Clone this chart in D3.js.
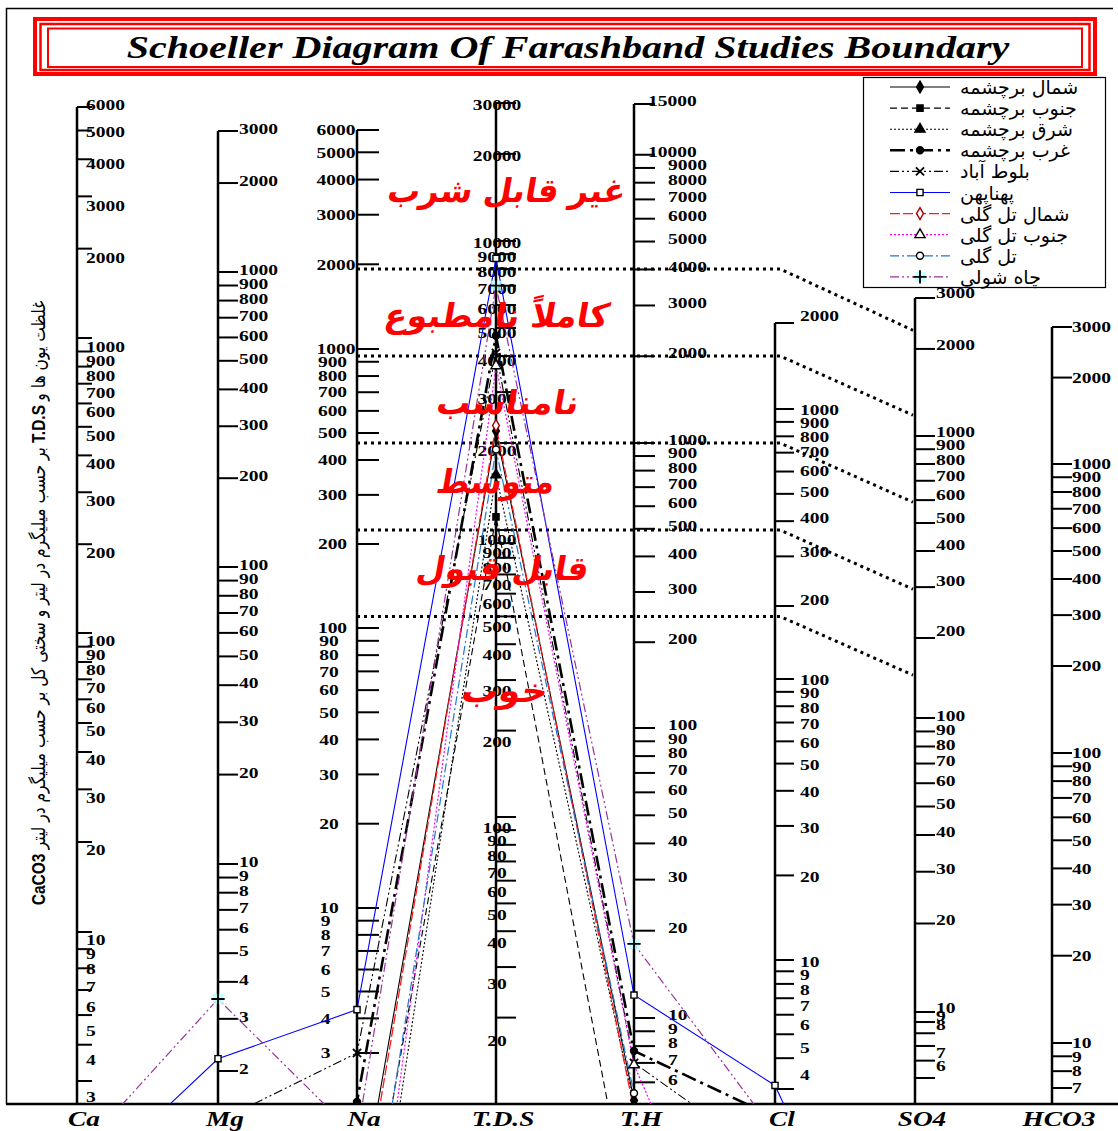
<!DOCTYPE html>
<html>
<head>
<meta charset="utf-8">
<script src="https://cdn.jsdelivr.net/npm/d3@7"></script>
<style>
  body { margin: 0; background: #fff; }
  svg { display: block; }
</style>
</head>
<body>
<svg id="chart" width="1118" height="1131"></svg>
<script>
// ---------------- data ----------------
const ions = ["Ca", "Mg", "Na", "T.D.S", "T.H", "Cl", "SO4", "HCO3"];

const stationNames = [
  "شمال برچشمه", "جنوب برچشمه", "شرق برچشمه", "غرب برچشمه", "بلوط آباد",
  "پهناپهن", "شمال تل گلی", "جنوب تل گلی", "تل گلی", "چاه شولی"
];

// concentrations in ion order: Ca, Mg, Na, TDS, TH, Cl, SO4, HCO3
const shomalBarchashmeh = [0.5, 0.35, 0.73, 2200, 5.2, 0.1, 0.3, 1.0];
const jonoubBarchashmeh = [0.4, 0.3, 0.38, 1110, 1.7, 0.1, 0.3, 1.0];
const sharqBarchashmeh  = [0.4, 0.25, 0.19, 1550, 5.0, 0.1, 0.3, 1.0];
const gharbBarchashmeh  = [0.5, 0.5, 2.0, 4700, 7.7, 2.3, 0.4, 1.2];
const bulutAbad         = [1.0, 1.35, 3.0, 4100, 7.0, 1.5, 0.3, 1.0];
const pahnapahn         = [1.0, 2.2, 4.3, 8700, 12, 3.1, 0.2, 1.0];
const shomalTalGoli     = [0.5, 0.3, 0.64, 2300, 4.8, 0.1, 0.3, 1.0];
const jonoubTalGoli     = [0.3, 0.2, 0.165, 3700, 6.9, 0.18, 0.2, 1.0];
const talGoli           = [0.4, 0.3, 0.31, 1900, 5.5, 0.1, 0.3, 1.0];
const chahShuli         = [1.6, 3.5, 1.5, 7000, 18, 2.0, 0.3, 1.0];

const seriesValues = [
  shomalBarchashmeh, jonoubBarchashmeh, sharqBarchashmeh, gharbBarchashmeh, bulutAbad,
  pahnapahn, shomalTalGoli, jonoubTalGoli, talGoli, chahShuli
];

// tick values of each ion axis
const caTicks   = [3,4,5,6,7,8,9,10,20,30,40,50,60,70,80,90,100,200,300,400,500,600,700,800,900,1000,2000,3000,4000,5000,6000];
const mgTicks   = [2,3,4,5,6,7,8,9,10,20,30,40,50,60,70,80,90,100,200,300,400,500,600,700,800,900,1000,2000,3000];
const naTicks   = [3,4,5,6,7,8,9,10,20,30,40,50,60,70,80,90,100,200,300,400,500,600,700,800,900,1000,2000,3000,4000,5000,6000];
const tdsTicks  = [20,30,40,50,60,70,80,90,100,200,300,400,500,600,700,800,900,1000,2000,3000,4000,5000,6000,7000,8000,9000,10000,20000,30000];
const thTicks   = [6,7,8,9,10,20,30,40,50,60,70,80,90,100,200,300,400,500,600,700,800,900,1000,2000,3000,4000,5000,6000,7000,8000,9000,10000,15000];
const clTicks   = [3,4,5,6,7,8,9,10,20,30,40,50,60,70,80,90,100,200,300,400,500,600,700,800,900,1000,2000];
const so4Ticks  = [5,6,7,8,9,10,20,30,40,50,60,70,80,90,100,200,300,400,500,600,700,800,900,1000,2000,3000];
const hco3Ticks = [7,8,9,10,20,30,40,50,60,70,80,90,100,200,300,400,500,600,700,800,900,1000,2000,3000];
const unlabeled = { Cl: [3], SO4: [5] };

// drinking-water class limits (TDS, with matching SO4 end points)
const classTDS = [8000, 4000, 2000, 1000, 500];
const classSO4 = [2320, 1180, 590, 295, 145];
const classNames = ["غیر قابل شرب", "کاملاً نامطبوع", "نامناسب", "متوسط", "قابل قبول", "خوب"];

// ---------------- layout ----------------
const svg = d3.select("#chart");
const bottomY = 1104;
const serifBold = "'Liberation Serif', 'Times New Roman', serif";
const persian = "'DejaVu Sans', sans-serif";

const axisLayout = [
  { key: "Ca", ticks: caTicks, x: 77, tickLen: 15,
    domain: [3,4,10,100,1000,6000], range: [1104,1081,932,633,338,107],
    labelDomain: [3,10,100,1000,3000,6000], labelRange: [1097,940,641,347,206,105],
    lx: () => 86, anchor: "start" },
  { key: "Mg", ticks: mgTicks, x: 218, tickLen: 20,
    domain: [2,10,100,1000,3000], range: [1071,864,567,272,131],
    lx: () => 239, anchor: "start", dy: -2 },
  { key: "Na", ticks: naTicks, x: 357, tickLen: 22,
    domain: [3,10,100,1000,6000], range: [1053,908,628,349,130],
    lx: v => 322 + String(v).length * 3.5, anchor: "middle", dy: 0 },
  { key: "T.D.S", ticks: tdsTicks, x: 496, tickLen: 20,
    domain: [10,100,1000,30000], range: [1104,817,530,103],
    labelDomain: [20,30,40,100,1000,10000,30000], labelRange: [1041,984,943,828,540,243,105],
    lx: () => 497, anchor: "middle" },
  { key: "T.H", ticks: thTicks, x: 634, tickLen: 21,
    domain: [10,100,1000,15000], range: [1018,728,443,104],
    lx: v => v >= 10000 ? 648 : 668, anchor: "start", dy: -3 },
  { key: "Cl", ticks: clTicks, x: 775, tickLen: 19,
    domain: [3,10,100,200,1000,2000], range: [1089,960,679,606,409,323],
    labelDomain: [4,10,100,200,1000,2000], labelRange: [1075,962,680,600,410,316],
    lx: () => 800, anchor: "start" },
  { key: "SO4", ticks: so4Ticks, x: 915, tickLen: 20,
    domain: [5,10,100,200,1000,3000], range: [1078,1012,718,638,436,298],
    labelDomain: [6,7,8,10,100,1000,3000], labelRange: [1066,1053,1025,1008,716,432,293],
    lx: () => 936, anchor: "start" },
  { key: "HCO3", ticks: hco3Ticks, x: 1052, tickLen: 20,
    domain: [7,10,100,1000,3000], range: [1088,1043,753,464,327],
    lx: () => 1072, anchor: "start", dy: 0 }
];
axisLayout.forEach(a => {
  a.scale = d3.scaleLog().domain(a.domain).range(a.range);
  if (a.labelDomain) {
    const ls = d3.scaleLog().domain(a.labelDomain).range(a.labelRange);
    a.labelY = v => ls(v);
  } else {
    a.labelY = v => a.scale(v) + a.dy;
  }
});

// ---------------- frame ----------------
svg.append("path")
  .attr("d", "M6.5,1104 V8.5 H1113")
  .attr("fill", "none").attr("stroke", "#000").attr("stroke-width", 1.5);

// ---------------- title box ----------------
const titleG = svg.append("g");
titleG.append("rect").attr("x", 35).attr("y", 19).attr("width", 1060).attr("height", 55)
  .attr("fill", "none").attr("stroke", "#ff0000").attr("stroke-width", 4);
titleG.append("rect").attr("x", 40.5).attr("y", 24).attr("width", 1049).attr("height", 46)
  .attr("fill", "none").attr("stroke", "#ff0000").attr("stroke-width", 2.5);
titleG.append("rect").attr("x", 48).attr("y", 28.5).attr("width", 1034).attr("height", 38.5)
  .attr("fill", "none").attr("stroke", "#ff0000").attr("stroke-width", 2);
const title = titleG.append("text")
  .attr("text-anchor", "middle")
  .style("font-family", serifBold).style("font-weight", "bold").style("font-style", "italic")
  .style("font-size", "32px")
  .text("Schoeller Diagram Of Farashband  Studies Boundary");
{
  const w = title.node().getComputedTextLength();
  title.attr("transform", `translate(568,58) scale(${883 / w},1)`);
}

// ---------------- vertical axis title ----------------
const yTitle = svg.append("text")
  .attr("text-anchor", "middle")
  .style("font-size", "19px");
yTitle.append("tspan").style("font-family", "'Liberation Sans', Arial, sans-serif").style("font-weight", "bold").text("CaCO3 ");
yTitle.append("tspan").style("font-family", persian).text("بر حسب میلیگرم در لیتر و سختی کل بر حسب میلیگرم در لیتر");
yTitle.append("tspan").style("font-family", "'Liberation Sans', Arial, sans-serif").style("font-weight", "bold").text(" T.D.S ");
yTitle.append("tspan").style("font-family", persian).text("غلظت یون ها و");
{
  const w = yTitle.node().getComputedTextLength();
  yTitle.attr("transform", `translate(45,603) rotate(-90) scale(${605 / w},1)`);
}

// ---------------- axis tick labels ----------------
const labelG = svg.append("g")
  .style("font-family", serifBold).style("font-weight", "bold").style("font-size", "15px");

axisLayout.forEach(a => {
  const skip = unlabeled[a.key] || [];
  a.ticks.filter(v => !skip.includes(v)).forEach(v => {
    const ly = Math.min(a.labelY(v), 1098);
    labelG.append("text")
      .attr("text-anchor", a.anchor)
      .attr("dy", "0.35em")
      .attr("transform", `translate(${a.lx(v)},${ly}) scale(1.3,1)`)
      .text(String(v));
  });
});

// ---------------- axis lines and ticks ----------------
const axisG = svg.append("g").attr("stroke", "#000");
axisLayout.forEach(a => {
  const top = a.scale(d3.max(a.ticks));
  axisG.append("line")
    .attr("x1", a.x).attr("x2", a.x).attr("y1", top).attr("y2", bottomY)
    .attr("stroke-width", 2.5);
  a.ticks.forEach(v => {
    const y = a.scale(v);
    if (y > bottomY - 1) return;
    axisG.append("line")
      .attr("x1", a.x).attr("x2", a.x + a.tickLen).attr("y1", y).attr("y2", y)
      .attr("stroke-width", 2);
  });
});

// base line
svg.append("line").attr("x1", 6).attr("x2", 1118).attr("y1", bottomY).attr("y2", bottomY)
  .attr("stroke", "#000").attr("stroke-width", 2.5);

// ion names under the axes
const nameG = svg.append("g")
  .style("font-family", serifBold).style("font-weight", "bold").style("font-style", "italic")
  .style("font-size", "21px");
axisLayout.forEach((a, i) => {
  nameG.append("text")
    .attr("text-anchor", "middle")
    .attr("transform", `translate(${a.x + 7},1126) scale(1.3,1)`)
    .text(ions[i]);
});

// ---------------- class boundaries ----------------
const tdsAxis = axisLayout[3], naAxis = axisLayout[2], clAxis = axisLayout[5], so4Axis = axisLayout[6];
classTDS.forEach((v, i) => {
  const y = tdsAxis.scale(v);
  svg.append("path")
    .attr("d", `M${naAxis.x},${y} H${clAxis.x + 5} L${so4Axis.x - 2},${so4Axis.scale(classSO4[i])}`)
    .attr("fill", "none").attr("stroke", "#000").attr("stroke-width", 3)
    .attr("stroke-dasharray", "3,4");
});

// ---------------- data lines ----------------
const seriesStyle = [
  { color: "#000000", width: 1.1, dash: null,            symbol: "diamond",  fill: "#000", mstroke: "#000" },
  { color: "#000000", width: 1.1, dash: "7,4",           symbol: "square",   fill: "#000", mstroke: "#000" },
  { color: "#000000", width: 1.1, dash: "2,2",           symbol: "triangle", fill: "#000", mstroke: "#000" },
  { color: "#000000", width: 2.6, dash: "15,5,3,5",      symbol: "circle",   fill: "#000", mstroke: "#000" },
  { color: "#000000", width: 1.1, dash: "9,3,2,3,2,3",   symbol: "times",    fill: "none", mstroke: "#000" },
  { color: "#0000ff", width: 1.1, dash: null,            symbol: "square",   fill: "#fff", mstroke: "#000" },
  { color: "#ff1a1a", width: 1.3, dash: "10,3",          symbol: "diamond",  fill: "#fff", mstroke: "#a00000" },
  { color: "#ff00ff", width: 1.2, dash: "2,2",           symbol: "triangle", fill: "#fff", mstroke: "#000" },
  { color: "#1f78d2", width: 1.2, dash: "9,3,2,3",       symbol: "circle",   fill: "#fff", mstroke: "#000" },
  { color: "#993399", width: 1.2, dash: "9,3,2,3,2,3",   symbol: "plus",     fill: "none", mstroke: "#000", halo: "#b8ffff" }
];

const symbolTypes = {
  diamond: d3.symbolDiamond,
  square: d3.symbolSquare,
  triangle: d3.symbolTriangle,
  circle: d3.symbolCircle,
  times: d3.symbolTimes || d3.symbolCross,
  plus: d3.symbolPlus || d3.symbolCross
};
const symbolSize = { diamond: 40, square: 38, triangle: 45, circle: 38, times: 45, plus: 60 };

function drawMarker(g, st, x, y) {
  if (st.halo) {
    g.append("rect").attr("x", x - 5).attr("y", y - 5).attr("width", 10).attr("height", 10)
      .attr("fill", st.halo).attr("opacity", 0.8);
  }
  const stroked = st.symbol === "times" || st.symbol === "plus";
  g.append("path")
    .attr("transform", `translate(${x},${y})`)
    .attr("d", d3.symbol().type(symbolTypes[st.symbol]).size(symbolSize[st.symbol])())
    .attr("fill", stroked ? "none" : st.fill)
    .attr("stroke", st.mstroke)
    .attr("stroke-width", stroked ? 1.8 : 1.4);
}

svg.append("defs").append("clipPath").attr("id", "plotClip")
  .append("rect").attr("x", 6).attr("y", 80).attr("width", 1112).attr("height", bottomY - 80);

const dataG = svg.append("g").attr("clip-path", "url(#plotClip)");
const line = d3.line()
  .x((d, i) => axisLayout[i].x)
  .y((d, i) => axisLayout[i].scale(d));

seriesValues.forEach((vals, s) => {
  const st = seriesStyle[s];
  dataG.append("path")
    .attr("d", line(vals))
    .attr("fill", "none")
    .attr("stroke", st.color)
    .attr("stroke-width", st.width)
    .attr("stroke-dasharray", st.dash);
});
seriesValues.forEach((vals, s) => {
  const st = seriesStyle[s];
  vals.forEach((v, i) => drawMarker(dataG, st, axisLayout[i].x, axisLayout[i].scale(v)));
});

// ---------------- class names ----------------
const classPos = [
  { cx: 505, cy: 193, w: 238 },
  { cx: 495, cy: 318, w: 224 },
  { cx: 506, cy: 405, w: 142 },
  { cx: 494, cy: 484, w: 118 },
  { cx: 501, cy: 571, w: 172 },
  { cx: 503, cy: 693, w: 86 }
];
classNames.forEach((name, i) => {
  const p = classPos[i];
  const t = svg.append("text")
    .attr("text-anchor", "middle")
    .style("font-family", persian).style("font-weight", "bold")
    .style("font-size", "33px").attr("fill", "#ff0000")
    .text(name);
  const w = t.node().getComputedTextLength();
  t.attr("transform", `translate(${p.cx},${p.cy + 9}) skewX(-10) scale(${p.w / w},1)`);
});

// ---------------- legend ----------------
const legend = svg.append("g");
legend.append("rect").attr("x", 863.5).attr("y", 77.5).attr("width", 242).attr("height", 210)
  .attr("fill", "#fff").attr("stroke", "#000").attr("stroke-width", 1.2);
stationNames.forEach((name, i) => {
  const st = seriesStyle[i];
  const y = 87 + i * 21.1;
  legend.append("line").attr("x1", 890).attr("x2", 950).attr("y1", y).attr("y2", y)
    .attr("stroke", st.color).attr("stroke-width", st.width).attr("stroke-dasharray", st.dash);
  drawMarker(legend, st, 920, y);
  legend.append("text")
    .attr("x", 960).attr("y", y + 7)
    .style("font-family", persian).style("font-size", "19px")
    .text(name);
});
</script>
</body>
</html>
